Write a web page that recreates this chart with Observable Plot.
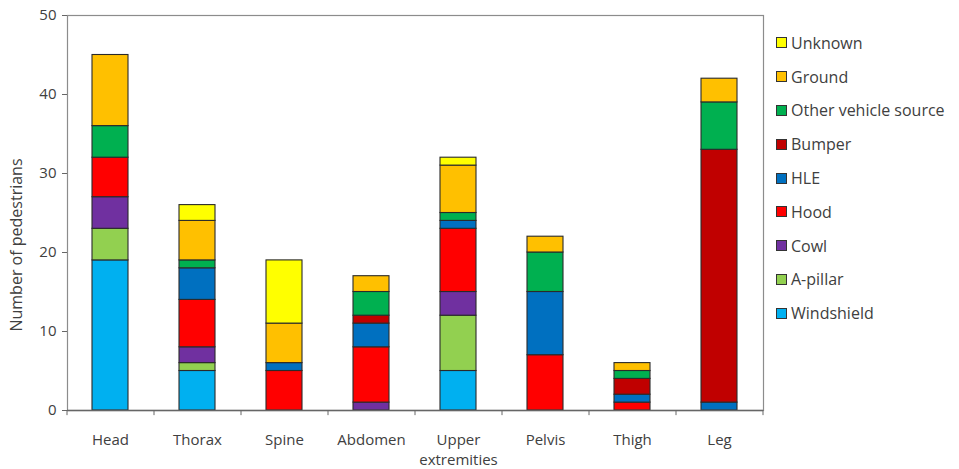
<!DOCTYPE html>
<html>
<head>
<meta charset="utf-8">
<script src="https://cdn.jsdelivr.net/npm/d3@7"></script>
<script src="https://cdn.jsdelivr.net/npm/@observablehq/plot@0.6"></script>
<style>
  body { margin: 0; background: #fff; }
  #wrap { position: relative; width: 959px; height: 469px; font-family: "Open Sans", sans-serif; color: #404040; }
  #legend { position: absolute; left: 776px; top: 26px; }
  .li { display: flex; align-items: center; height: 33.8px; font-size: 16px; line-height: 18px; }
  .sw { width: 11px; height: 11px; border: 1px solid #333; margin-right: 4px; box-sizing: border-box; }
  #ytitle { position: absolute; left: 16px; top: 245px; transform: translate(-50%, -50%) rotate(-90deg); white-space: nowrap; font-size: 16px; }
</style>
</head>
<body>
<div id="wrap"><div id="ytitle">Number of pedestrians</div><div id="legend"></div></div>
<script>
const categories = ["Head","Thorax","Spine","Abdomen","Upper extremities","Pelvis","Thigh","Leg"];
const tickLabels = ["Head","Thorax","Spine","Abdomen","Upper\nextremities","Pelvis","Thigh","Leg"];
const sources = ["Windshield","A-pillar","Cowl","Hood","HLE","Bumper","Other vehicle source","Ground","Unknown"];
const colors = ["#00B0F0","#92D050","#7030A0","#FF0000","#0070C0","#C00000","#00B050","#FFC000","#FFFF00"];
const windshield = [19,5,0,0,5,0,0,0];
const aPillar    = [4,1,0,0,7,0,0,0];
const cowl       = [4,2,0,1,3,0,0,0];
const hood       = [5,6,5,7,8,7,1,0];
const hle        = [0,4,1,3,1,8,1,1];
const bumper     = [0,0,0,1,0,0,2,32];
const otherVeh   = [4,1,0,3,1,5,1,6];
const ground     = [9,5,5,2,6,2,1,3];
const unknown    = [0,2,8,0,1,0,0,0];
const yTicks = [0,10,20,30,40,50];

const seriesValues = [windshield,aPillar,cowl,hood,hle,bumper,otherVeh,ground,unknown];
const data = [];
categories.forEach((c, i) => {
  sources.forEach((s, j) => {
    const v = seriesValues[j][i];
    if (v > 0) data.push({part: c, source: s, value: v});
  });
});

const step = (959 - 67 - 196) / categories.length;

const chart = Plot.plot({
  width: 959,
  height: 469,
  marginTop: 15,
  marginBottom: 59,
  marginLeft: 67,
  marginRight: 196,
  style: {fontFamily: "Open Sans, sans-serif", fontSize: "15px", color: "#404040", background: "transparent"},
  x: {domain: categories, paddingInner: 0.585, paddingOuter: 0.2925, label: null},
  y: {domain: [0, 50], label: null},
  color: {domain: sources, range: colors},
  marks: [
    Plot.frame({stroke: "#8c8c8c", strokeWidth: 1.2}),
    Plot.barY(data, {x: "part", y: "value", fill: "source", stroke: "#2a2a2a", strokeWidth: 1.1}),
    Plot.ruleY([0], {stroke: "#666", strokeWidth: 1.5}),
    Plot.ruleX(categories, {x: d => d, dx: -step / 2, y1: 0, y2: -0.65, stroke: "#666"}),
    Plot.ruleX(categories.slice(-1), {x: d => d, dx: step / 2, y1: 0, y2: -0.65, stroke: "#666"}),
    Plot.axisY({ticks: yTicks, tickSize: 5, tickPadding: 6, label: null, stroke: "#666", fontSize: 15}),
    Plot.axisX({tickSize: 0, tickPadding: 20, label: null, fontSize: 15, lineHeight: 1.35,
      tickFormat: d => tickLabels[categories.indexOf(d)]})
  ]
});
const wrap = document.getElementById("wrap");
wrap.insertBefore(chart, wrap.firstChild);
chart.style.position = "absolute"; chart.style.left = "0"; chart.style.top = "0";

const legend = document.getElementById("legend");
const legendOrder = sources.slice().reverse();
legendOrder.forEach(s => {
  const row = document.createElement("div");
  row.className = "li";
  const sw = document.createElement("div");
  sw.className = "sw";
  sw.style.background = colors[sources.indexOf(s)];
  row.appendChild(sw);
  row.appendChild(document.createTextNode(s));
  legend.appendChild(row);
});
</script>
</body>
</html>
